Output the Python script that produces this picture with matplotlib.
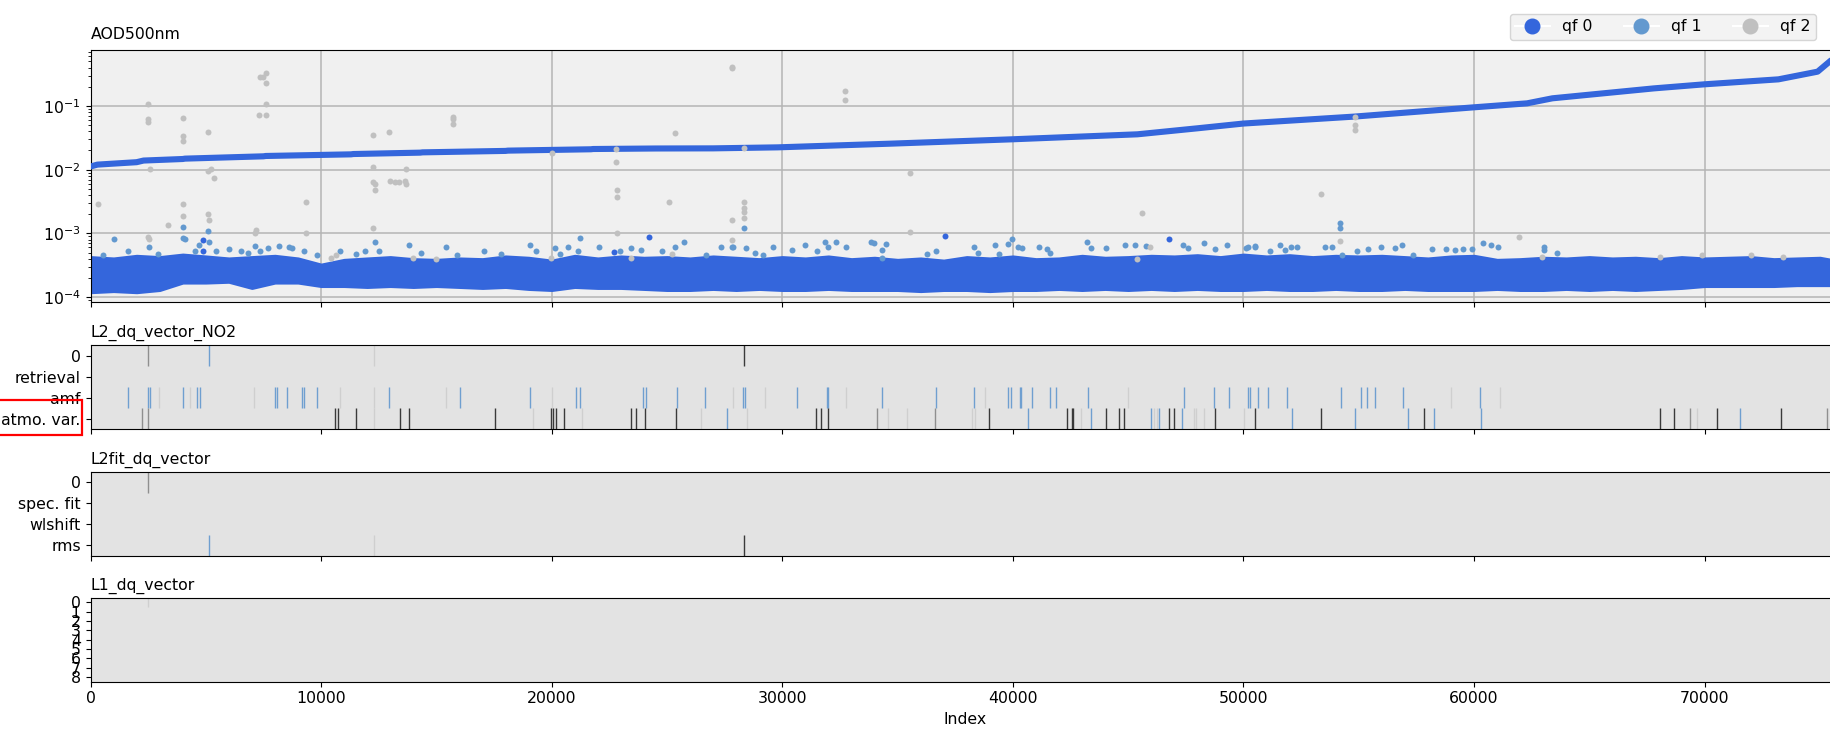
import matplotlib
matplotlib.use("Agg")
import matplotlib.pyplot as plt
from matplotlib.lines import Line2D
from matplotlib.patches import Rectangle

# ---------------- data ----------------
# sorted AOD500nm curve (qf 0)
curve_idx = [0, 300, 2000, 2300, 4000, 4100, 7500, 7600, 11300, 11400, 14300, 14400,
             18000, 18100, 21700, 21800, 24500, 27000, 29800, 34700, 40000, 45400,
             48000, 50000, 54800, 60000, 62300, 63400, 67800, 70000, 73200, 74900, 75500]
curve_val = [0.0112, 0.0120, 0.0131, 0.0139, 0.0147, 0.0149, 0.0162, 0.0164, 0.0174, 0.0176,
             0.0185, 0.0187, 0.0197, 0.0199, 0.0209, 0.0211, 0.0215, 0.0216, 0.0224, 0.0256,
             0.0300, 0.0359, 0.0446, 0.053, 0.0681, 0.0953, 0.110, 0.132, 0.189, 0.219,
             0.262, 0.346, 0.527]

# dense qf 0 band of the second quantity (envelope, units 1e-4)
band_idx = [0, 1000, 2000, 3000, 4000, 5000, 6000, 7000, 8000, 9000, 10000, 11000, 12000,
            13000, 14000, 15000, 16000, 17000, 18000, 19000, 20000, 21000, 22000, 23000,
            24000, 25000, 26000, 27000, 28000, 29000, 30000, 31000, 32000, 33000, 34000,
            35000, 36000, 37000, 38000, 39000, 40000, 41000, 42000, 43000, 44000, 45000,
            46000, 47000, 48000, 49000, 50000, 51000, 52000, 53000, 54000, 55000, 56000,
            57000, 58000, 59000, 60000, 61000, 62000, 63000, 64000, 65000, 66000, 67000,
            68000, 69000, 70000, 71000, 72000, 73000, 74000, 75000, 75500]
band_upper = [4.2, 4.0, 4.4, 4.2, 4.6, 4.3, 4.0, 4.2, 4.4, 4.0, 3.2, 3.8, 4.0, 4.2, 3.9, 3.8,
              4.0, 3.9, 4.3, 4.1, 3.7, 4.4, 4.0, 4.3, 4.1, 4.2, 4.0, 4.3, 4.1, 3.9, 4.2, 4.0,
              4.3, 3.9, 4.1, 3.8, 4.0, 3.7, 4.2, 4.0, 4.3, 3.9, 4.0, 4.4, 4.1, 4.2, 4.4, 4.3,
              4.5, 4.2, 4.6, 4.3, 4.5, 4.2, 4.4, 4.3, 4.4, 4.2, 4.0, 4.3, 4.4, 3.8, 3.9, 4.1,
              4.0, 4.2, 4.0, 4.1, 3.9, 4.2, 4.0, 4.1, 4.2, 3.9, 4.0, 4.1, 3.8]
band_lower = [1.2, 1.25, 1.2, 1.3, 1.7, 1.7, 1.75, 1.4, 1.7, 1.7, 1.5, 1.5, 1.45, 1.5, 1.45,
              1.5, 1.45, 1.4, 1.45, 1.35, 1.3, 1.45, 1.4, 1.4, 1.35, 1.3, 1.3, 1.35, 1.3,
              1.35, 1.3, 1.3, 1.35, 1.3, 1.3, 1.3, 1.25, 1.3, 1.3, 1.25, 1.3, 1.3, 1.35, 1.3,
              1.35, 1.3, 1.35, 1.3, 1.35, 1.3, 1.3, 1.35, 1.3, 1.3, 1.35, 1.3, 1.3, 1.35, 1.3,
              1.3, 1.3, 1.35, 1.3, 1.3, 1.35, 1.3, 1.35, 1.3, 1.35, 1.4, 1.5, 1.5, 1.5, 1.5,
              1.55, 1.55, 1.55]

# isolated qf 0 points above the band
qf0_idx = [4890, 4890, 22702, 24230, 37066, 46777]
qf0_val = [7.9e-4, 5.2e-4, 5.1e-4, 8.8e-4, 9.2e-4, 8.2e-4]

# qf 1 points
qf1_idx = [541, 1006, 1620, 2533, 2948, 3994, 4027, 4110, 4525, 4691, 5106, 5123, 5438, 6019,
           6517, 6849, 7131, 7347, 7679, 8177, 8592, 8758, 9256, 9837, 10833, 11497, 11912,
           12327, 12493, 13821, 14319, 15398, 15896, 17058, 17805, 19050, 19299, 20129, 20378,
           20710, 21125, 21208, 22038, 22951, 23449, 23864, 24777, 25358,
           25728, 26691, 27355, 27803, 27853, 28351, 28434, 28816, 29181, 29596, 30426, 31007,
           31505, 31837, 32003, 32335, 32750, 33829, 33995, 34327, 34327, 34493, 36269, 36651,
           38311, 38477, 39224, 39390, 39805, 39971, 40220, 40386, 41133, 41465, 41631, 43208,
           43374, 44038, 44868, 45283, 45781, 47358, 47607, 48271, 48769, 49267, 50097, 50512,
           50180, 50507, 51161, 51570, 51815, 52060, 52306, 53532, 53859, 54186, 54186, 54268,
           54922, 55412, 55984, 56557, 56884, 57374, 58191, 58765, 59172, 59500, 59908, 60399,
           60726, 61053, 63015, 63015, 63587]
qf1_val = [4.6e-4, 8.1e-4, 5.3e-4, 6.2e-4, 4.7e-4, 1.28e-3, 8.6e-4, 8.2e-4, 5.3e-4, 6.6e-4,
           1.09e-3, 7.2e-4, 5.2e-4, 5.7e-4, 5.3e-4, 5.0e-4, 6.3e-4, 5.3e-4, 5.8e-4, 6.4e-4,
           6.0e-4, 5.8e-4, 5.3e-4, 4.6e-4, 5.2e-4, 4.7e-4, 5.2e-4, 7.2e-4, 5.3e-4, 6.6e-4,
           5.0e-4, 6.2e-4, 4.6e-4, 5.3e-4, 4.7e-4, 6.6e-4, 5.2e-4, 5.8e-4, 4.7e-4, 6.2e-4,
           5.3e-4, 8.6e-4, 6.2e-4, 5.2e-4, 5.8e-4, 5.5e-4, 5.2e-4, 6.2e-4,
           7.4e-4, 4.6e-4, 6.2e-4, 6.2e-4, 6.0e-4, 1.2e-3, 5.8e-4, 4.9e-4, 4.5e-4, 6.2e-4,
           5.5e-4, 6.6e-4, 5.2e-4, 7.2e-4, 6.2e-4, 7.4e-4, 6.2e-4, 7.4e-4, 7.0e-4, 5.5e-4,
           4.1e-4, 6.7e-4, 4.7e-4, 5.2e-4, 6.0e-4, 4.9e-4, 6.6e-4, 4.7e-4, 6.7e-4, 8.1e-4,
           6.2e-4, 5.8e-4, 6.0e-4, 5.7e-4, 5.0e-4, 7.4e-4, 5.8e-4, 5.8e-4, 6.6e-4, 6.6e-4,
           6.4e-4, 6.6e-4, 5.8e-4, 7.1e-4, 5.7e-4, 6.6e-4, 5.8e-4, 6.2e-4,
           6.2e-4, 6.3e-4, 5.3e-4, 6.6e-4, 5.5e-4, 6.2e-4, 6.2e-4, 6.2e-4, 6.2e-4, 1.44e-3,
           1.23e-3, 4.6e-4, 5.3e-4, 5.7e-4, 6.2e-4, 5.8e-4, 6.6e-4, 4.6e-4, 5.7e-4, 5.7e-4,
           5.5e-4, 5.7e-4, 5.7e-4, 7.0e-4, 6.6e-4, 6.2e-4, 6.2e-4, 5.4e-4, 5.0e-4]

# qf 2 points
qf2_idx = [342, 2500, 2500, 2500, 2583, 2500, 2530, 3363, 3994, 3994, 3994, 3994, 3994,
           5106, 5106, 5240, 5355, 5106, 5140, 7164, 7150, 7340, 7596, 7596, 7500, 7596, 7310,
           7596, 9339, 9339, 12261, 12958, 12261, 12261, 12327, 12327, 12261, 12990, 13190,
           13400, 13650, 13700, 13700, 15730, 15730, 15730, 20013, 22785, 22785, 22835, 22835,
           22835, 25070, 25360, 27820, 27820, 28350, 27800, 28350, 28350, 28350, 28350, 27800,
           32717, 32717, 35522, 35522, 45615, 54840, 54840, 54840, 53368, 61952, 54186, 68083,
           69881, 72008, 73397, 62933, 10418, 10667, 13987, 14983, 19963, 23449, 25197, 45367,
           45947]
qf2_val = [2.86e-3, 0.106, 0.0625, 0.0555, 0.0101, 8.9e-4, 8.2e-4, 1.36e-3, 0.064, 0.034,
           0.0286, 2.86e-3, 1.87e-3, 0.039, 0.0096, 0.0103, 0.0073, 2.0e-3, 1.6e-3, 1.13e-3,
           1.0e-3, 0.282, 0.326, 0.232, 0.29, 0.109, 0.073, 0.073, 3.15e-3, 1.0e-3, 0.035,
           0.0386, 0.0112, 0.0065, 0.0059, 0.0048, 1.23e-3, 0.0066, 0.0064, 0.0063, 0.0066,
           0.0060, 0.0101, 0.068, 0.062, 0.053, 0.0185, 0.0211, 0.0134, 4.8e-3, 3.7e-3, 1.0e-3,
           3.07e-3, 0.037, 0.39, 0.41, 0.0216, 1.6e-3, 3.15e-3, 2.47e-3, 2.2e-3, 1.77e-3, 7.9e-4,
           0.172, 0.124, 8.97e-3, 1.06e-3, 2.06e-3, 0.066, 0.05, 0.042, 4.1e-3, 8.9e-4, 7.6e-4,
           4.2e-4, 4.5e-4, 4.5e-4, 4.2e-4, 4.3e-4, 4.1e-4, 4.6e-4, 4.1e-4, 4.0e-4, 4.1e-4,
           4.1e-4, 4.7e-4, 3.9e-4, 6.2e-4]

# flag panels: rows and flagged indices, grouped by shade class
no2_rows = ["0", "retrieval", "amf", "atmo. var."]
no2_row0_gray = [2483]
no2_row0_blue = [5123]
no2_row0_faint = [12294]
no2_row0_dark = [28351]
no2_amf_blue = [1620, 2483, 2566, 4027, 4625, 4741, 8011, 8077, 8509, 9173, 9256, 9837, 12925,
                16029, 19050, 21059, 21225, 23947, 24080, 25420, 26658, 28285, 28384, 30625,
                31937, 32003, 34344, 36684, 38311, 39805, 39905, 40303, 40370, 40851, 41631,
                41863, 43258, 47408, 48703, 49383, 50180, 50277, 50637, 51078, 51896, 54234,
                55084, 55378, 55689, 56932, 60251]
no2_amf_faint = [2965, 4326, 7098, 10833, 12310, 15431, 20029, 27853, 29264, 32783, 38809,
                 44984, 59008, 61117]
no2_atmo_dark = [10584, 10733, 11497, 13423, 13821, 17556, 19963, 20063, 20195, 20544, 23449,
                 23665, 24030, 25396, 31472, 31671, 32003, 38975, 42328, 42561, 42627, 44055,
                 44619, 44818, 46777, 47009, 48769, 50506, 53384, 57831, 68082, 68671, 70535,
                 73314]
no2_atmo_gray = [2251, 2483, 34111, 36618, 69358, 75309]
no2_atmo_blue = [27621, 40635, 43391, 45980, 46345, 47341, 52108, 54839, 57144, 58272, 60283,
                 71532]
no2_atmo_faint = [12294, 19199, 21325, 26475, 28484, 34593, 35406, 38211, 38361, 42959, 46113,
                  46246, 47839, 47939, 48271, 50016, 69684]

fit_rows = ["0", "spec. fit", "wlshift", "rms"]
fit_row0_gray = [2483]
fit_rms_blue = [5123]
fit_rms_faint = [12294]
fit_rms_dark = [28351]

l1_rows = ["0", "1", "2", "3", "4", "5", "6", "7", "8"]
l1_row0_faint = [2483]

xticks = [0, 10000, 20000, 30000, 40000, 50000, 60000, 70000]

# ---------------- styling ----------------
W, H = 1831, 732
FS = 11.3
C0, C1, C2 = "#3466dc", "#6399cf", "#c0c0c0"
SHADE = {"dark": "#3a3a3a", "gray": "#8f8f8f", "blue": "#6f9fd0", "faint": "#cfcfcf"}
plt.rcParams.update({"font.size": FS, "font.family": ["DejaVu Sans"]})

fig = plt.figure(figsize=(W / 100, H / 100), dpi=100)
left = 90.5 / W
width = (1840 - 90.5) / W
XMAX = 75870


def fr(top_px, bot_px):
    return [left, 1 - bot_px / H, width, (bot_px - top_px) / H]


ax0 = fig.add_axes(fr(50, 302))
ax1 = fig.add_axes(fr(345, 429.3), sharex=ax0)
ax2 = fig.add_axes(fr(471.7, 555.7), sharex=ax0)
ax3 = fig.add_axes(fr(597.7, 681.5), sharex=ax0)

# top panel
ax0.set_facecolor("#f0f0f0")
ax0.set_yscale("log")
ax0.grid(True, which="major", color="#b4b4b4", lw=1.1, zorder=0)
ax0.set_axisbelow(True)
ax0.plot(curve_idx, curve_val, color=C0, lw=4.4, solid_capstyle="round", zorder=3)
ax0.fill_between(band_idx, [v * 1e-4 for v in band_lower], [v * 1e-4 for v in band_upper],
                 color=C0, lw=2.5, edgecolor=C0, zorder=2)
ax0.plot(qf1_idx, qf1_val, "o", color=C1, ms=4.3, mew=0, zorder=3)
ax0.plot(qf0_idx, qf0_val, "o", color=C0, ms=4.3, mew=0, zorder=3)
ax0.plot(qf2_idx, qf2_val, "o", color=C2, ms=4.3, mew=0, zorder=4)
ax0.set_ylim(8.35e-5, 0.757)
ax0.set_xlim(0, XMAX)
ax0.set_title("AOD500nm", loc="left", fontsize=FS, pad=8)
ax0.tick_params(labelbottom=False)


def flag_panel(ax, rows, groups, title):
    ax.set_facecolor("#e3e3e3")
    for row, pos, shade in groups:
        ax.vlines(pos, row - 0.5, row + 0.5, colors=SHADE[shade], lw=1.0)
    ax.set_ylim(len(rows) - 0.5, -0.5)
    ax.set_yticks(range(len(rows)))
    ax.set_yticklabels(rows)
    ax.set_title(title, loc="left", fontsize=FS)


flag_panel(ax1, no2_rows, [
    (0, no2_row0_gray, "gray"), (0, no2_row0_blue, "blue"), (0, no2_row0_faint, "faint"),
    (0, no2_row0_dark, "dark"),
    (2, no2_amf_faint, "faint"), (2, no2_amf_blue, "blue"),
    (3, no2_atmo_faint, "faint"), (3, no2_atmo_gray, "gray"), (3, no2_atmo_blue, "blue"),
    (3, no2_atmo_dark, "dark"),
], "L2_dq_vector_NO2")
flag_panel(ax2, fit_rows, [
    (0, fit_row0_gray, "gray"), (3, fit_rms_blue, "blue"), (3, fit_rms_faint, "faint"),
    (3, fit_rms_dark, "dark"),
], "L2fit_dq_vector")
flag_panel(ax3, l1_rows, [(0, l1_row0_faint, "faint")], "L1_dq_vector")

for ax in (ax1, ax2):
    ax.tick_params(labelbottom=False)
ax3.set_xticks(xticks)
ax3.set_xticklabels([str(t) for t in xticks])
ax3.set_xlabel("Index", fontsize=FS)

# legend
handles = [Line2D([0], [0], color="white", lw=1.5, marker="o", ms=10.5,
                  markerfacecolor=c, markeredgecolor=c) for c in (C0, C1, C2)]
fig.legend(handles, ["qf 0", "qf 1", "qf 2"], ncol=3, loc="upper right",
           bbox_to_anchor=(1824 / W, 1 - 6 / H), frameon=True, facecolor="#f0f0f0",
           edgecolor="#cccccc", fontsize=FS, handlelength=2.2, columnspacing=2.0,
           borderpad=0.35)

# red highlight box around the "atmo. var." label
fig.add_artist(Rectangle((-3 / W, 1 - 435 / H), 85 / W, 35 / H, transform=fig.transFigure,
                         fill=False, edgecolor="red", lw=1.6, zorder=10))

fig.savefig("out.png", dpi=100)
